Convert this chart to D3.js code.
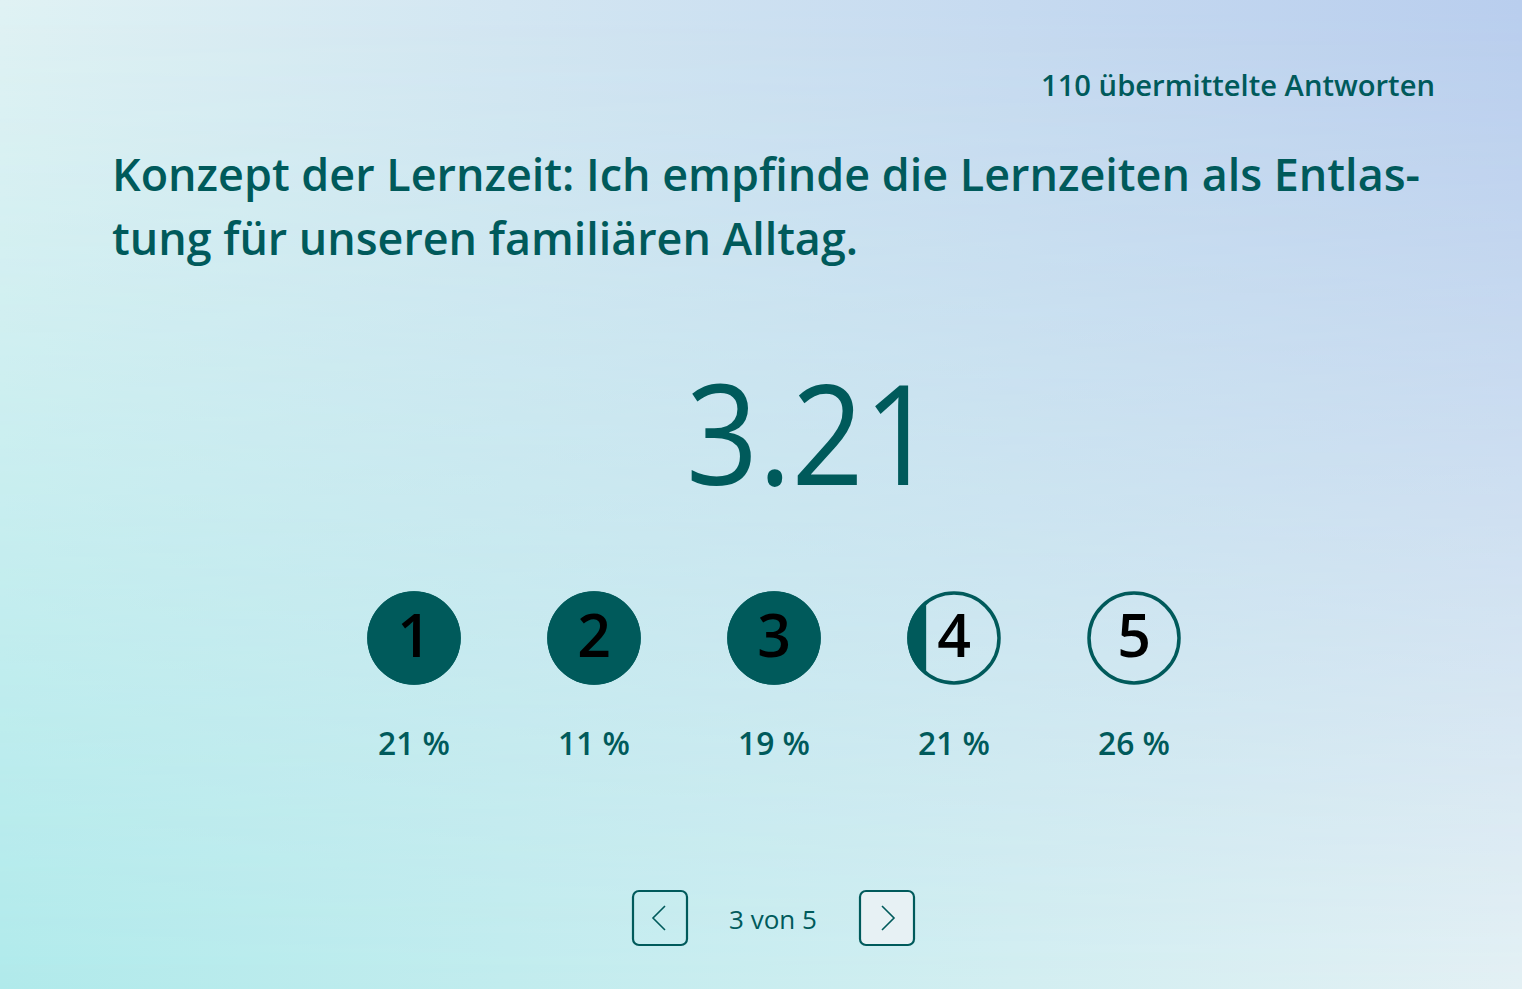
<!DOCTYPE html>
<html>
<head>
<meta charset="utf-8">
<script src="https://cdn.jsdelivr.net/npm/d3@7"></script>
<style>
  html, body { margin: 0; padding: 0; overflow: hidden; }
  svg { display: block; }
</style>
</head>
<body>
<div id="chart"></div>
<script>
// values
const ratings = [1, 2, 3, 4, 5];
const shares = [21, 11, 19, 21, 26];   // percent per rating
const average = 3.21;
const responses = 110;
const currentPage = 3, pageCount = 5;
const titleLines = [
  "Konzept der Lernzeit: Ich empfinde die Lernzeiten als Entlas-",
  "tung für unseren familiären Alltag."
];

const W = 1522, H = 989;
const teal = "#005a5b";
const font = "'Open Sans', 'Noto Sans', sans-serif";

const svg = d3.select("#chart").append("svg")
  .attr("width", W)
  .attr("height", H);

const defs = svg.append("defs");

// background: bilinear blend of four corner colours
function hGrad(id, c0, c1) {
  let g = defs.append("linearGradient").attr("id", id)
    .attr("x1", 0).attr("y1", 0).attr("x2", 1).attr("y2", 0);
  g.append("stop").attr("offset", 0).attr("stop-color", c0);
  g.append("stop").attr("offset", 1).attr("stop-color", c1);
}
hGrad("bgTop", "#e0f2f4", "#b9ceee");
hGrad("bgBottom", "#b0eaeb", "#e3f0f4");

let vg = defs.append("linearGradient").attr("id", "fadeDown")
  .attr("x1", 0).attr("y1", 0).attr("x2", 0).attr("y2", 1);
vg.append("stop").attr("offset", 0).attr("stop-color", "#fff").attr("stop-opacity", 0);
vg.append("stop").attr("offset", 1).attr("stop-color", "#fff").attr("stop-opacity", 1);
defs.append("mask").attr("id", "bottomMask")
  .append("rect").attr("width", W).attr("height", H).attr("fill", "url(#fadeDown)");

svg.append("rect").attr("width", W).attr("height", H).attr("fill", "url(#bgTop)");
svg.append("rect").attr("width", W).attr("height", H).attr("fill", "url(#bgBottom)")
  .attr("mask", "url(#bottomMask)");

// squeeze text to the width it has in the reference
function fit(sel, target, always) {
  let w = sel.node().getComputedTextLength();
  if (always || Math.abs(w - target) > 2) {
    sel.attr("textLength", target).attr("lengthAdjust", "spacingAndGlyphs");
  }
  return sel;
}

// header
fit(svg.append("text")
  .attr("x", 1435).attr("y", 96)
  .attr("text-anchor", "end")
  .style("font-family", font).style("font-weight", 600).style("font-size", "29px")
  .style("fill", teal)
  .text(`${responses} übermittelte Antworten`), 394);

// title
const titleWidths = [1308, 746];
titleLines.forEach((line, i) => {
  fit(svg.append("text")
    .attr("x", 112).attr("y", 191 + i * 64)
    .style("font-family", font).style("font-weight", 600).style("font-size", "46px")
    .style("fill", teal)
    .text(line), titleWidths[i]);
});

// average
fit(svg.append("text")
  .attr("x", 811).attr("y", 485)
  .attr("text-anchor", "middle")
  .style("font-family", font).style("font-weight", 400).style("font-size", "140px")
  .style("fill", teal)
  .text(average.toFixed(2)), 250, true);

// rating circles
const xScale = d3.scaleLinear().domain([1, 5]).range([414, 1134]);
const r = 45;
const cy = 638;

const items = ratings.map((v, i) => ({
  rating: v,
  share: shares[i],
  fill: Math.max(0, Math.min(1, average - (v - 1)))
}));

const g = svg.append("g");

items.forEach(d => {
  defs.append("clipPath").attr("id", "clip" + d.rating)
    .append("rect")
    .attr("x", xScale(d.rating) - r - 3)
    .attr("y", cy - r - 3)
    .attr("width", d.fill * (2 * r + 6))
    .attr("height", 2 * r + 6);
});

g.selectAll("circle.ring")
  .data(items)
  .enter().append("circle")
  .attr("class", "ring")
  .attr("cx", d => xScale(d.rating))
  .attr("cy", cy)
  .attr("r", r)
  .style("fill", "none")
  .style("stroke", teal)
  .style("stroke-width", 3.5);

g.selectAll("circle.fill")
  .data(items.filter(d => d.fill > 0))
  .enter().append("circle")
  .attr("class", "fill")
  .attr("cx", d => xScale(d.rating))
  .attr("cy", cy)
  .attr("r", r + 1.75)
  .attr("clip-path", d => `url(#clip${d.rating})`)
  .style("fill", teal);

g.selectAll("text.digit")
  .data(items)
  .enter().append("text")
  .attr("class", "digit")
  .attr("x", d => xScale(d.rating))
  .attr("y", cy + 19)
  .attr("text-anchor", "middle")
  .style("font-family", font).style("font-weight", 600).style("font-size", "59px")
  .style("fill", "#000")
  .text(d => d.rating);

g.selectAll("text.share")
  .data(items)
  .enter().append("text")
  .attr("class", "share")
  .attr("x", d => xScale(d.rating))
  .attr("y", 755)
  .attr("text-anchor", "middle")
  .style("font-family", font).style("font-weight", 600).style("font-size", "33px")
  .style("fill", teal)
  .text(d => `${d.share} %`)
  .each(function () { fit(d3.select(this), 72); });

// pager
const pager = svg.append("g");
pager.append("rect")
  .attr("x", 633).attr("y", 891).attr("width", 54).attr("height", 54).attr("rx", 6)
  .style("fill", "none").style("stroke", teal).style("stroke-width", 2.2);
pager.append("rect")
  .attr("x", 860).attr("y", 891).attr("width", 54).attr("height", 54).attr("rx", 6)
  .style("fill", "#e7f1f4").style("stroke", teal).style("stroke-width", 2.2);
pager.append("path")
  .attr("d", "M665,906 L653,918 L665,930")
  .style("fill", "none").style("stroke", teal).style("stroke-width", 1.6);
pager.append("path")
  .attr("d", "M882,906 L894,918 L882,930")
  .style("fill", "none").style("stroke", teal).style("stroke-width", 1.6);
fit(pager.append("text")
  .attr("x", 773).attr("y", 929)
  .attr("text-anchor", "middle")
  .style("font-family", font).style("font-size", "26px")
  .style("fill", teal)
  .text(`${currentPage} von ${pageCount}`), 89);
</script>
</body>
</html>
